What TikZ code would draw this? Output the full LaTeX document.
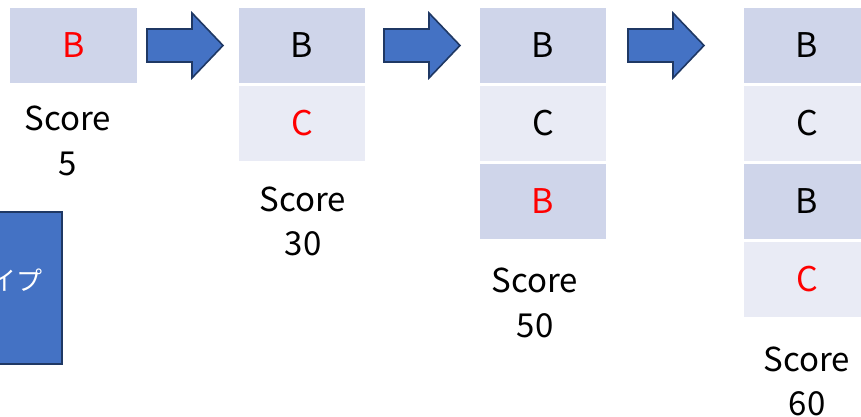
\documentclass[tikz,border=0pt]{standalone}
\usepackage{fontspec}
\setmainfont{Noto Sans CJK JP}
\definecolor{boxdark}{HTML}{CFD5EA}
\definecolor{boxlight}{HTML}{E9EBF5}
\definecolor{accblue}{HTML}{4472C4}
\definecolor{navy}{HTML}{1F3864}
\definecolor{redtxt}{HTML}{FF0000}
\tikzset{
  cell/.style={rectangle, inner sep=0pt, minimum width=127pt, minimum height=75pt, font=\fontsize{34}{40}\selectfont},
  dk/.style={cell, fill=boxdark},
  lt/.style={cell, fill=boxlight},
  red/.style={text=redtxt},
  lbl/.style={anchor=base, inner sep=0pt, font=\fontsize{33}{40}\selectfont},
  blockarrow/.style={fill=accblue, draw=navy, line width=1.6pt, line join=miter},
}
\begin{document}
\begin{tikzpicture}[x=1pt,y=-1pt]
\useasboundingbox (0,0) rectangle (861,417);
\fill[white] (0,0) rectangle (861,417);

% blue rectangle at lower left
\draw[fill=accblue, draw=navy, line width=1.8pt] (-20,212) rectangle (62,364);
\node[anchor=base east, inner sep=0pt, text=white, font=\fontsize{26}{30}\selectfont] (typ) at (43,290) {イプ};

% column 1
\node[dk, red, minimum width=127pt] (c1a) at (73.5,45.5) {B};
\node[lbl] (s1) at (68,130) {Score};
\node[lbl] (n1) at (68,175) {5};

% column 2
\node[dk, minimum width=126pt] (c2a) at (302,45.5) {B};
\node[lt, red, minimum width=126pt] (c2b) at (302,123.5) {C};
\node[lbl] (s2) at (303,211) {Score};
\node[lbl] (n2) at (303,255) {30};

% column 3
\node[dk, minimum width=126pt] (c3a) at (543,45.5) {B};
\node[lt, minimum width=126pt] (c3b) at (543,123.5) {C};
\node[dk, red, minimum width=126pt] (c3c) at (543,201.5) {B};
\node[lbl] (s3) at (535,292) {Score};
\node[lbl] (n3) at (535,337) {50};

% column 4
\node[dk, minimum width=126pt] (c4a) at (807,45.5) {B};
\node[lt, minimum width=126pt] (c4b) at (807,123.5) {C};
\node[dk, minimum width=126pt] (c4c) at (807,201.5) {B};
\node[lt, red, minimum width=126pt] (c4d) at (807,279.5) {C};
\node[lbl] (s4) at (807,371) {Score};
\node[lbl] (n4) at (807,415) {60};

% block arrows
\foreach \dx in {0,237,481}{
  \draw[blockarrow, xshift=\dx] (147,29) -- (192,29) -- (192,13) -- (223,45.5) -- (192,78) -- (192,62) -- (147,62) -- cycle;
}
\end{tikzpicture}
\end{document}
